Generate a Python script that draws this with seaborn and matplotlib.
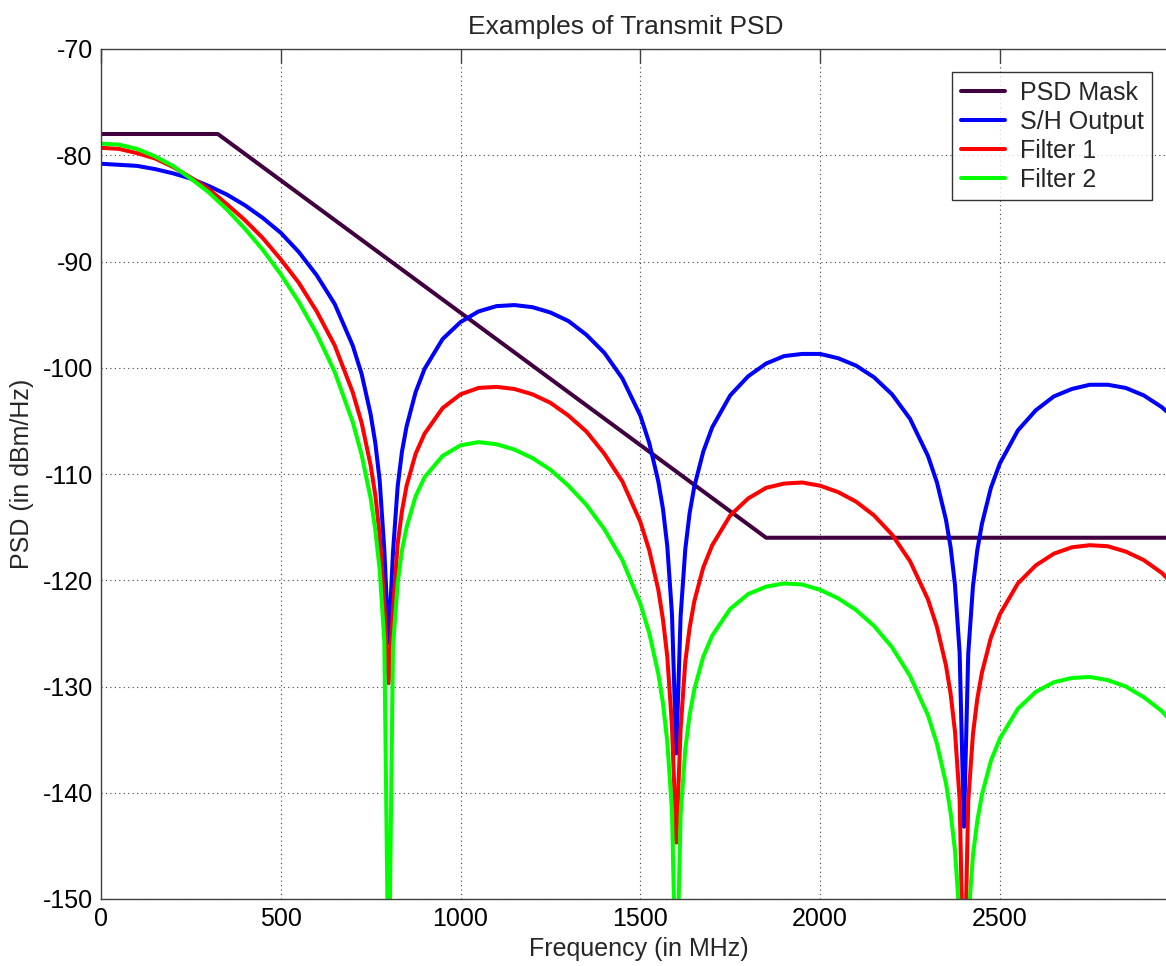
import pandas as pd
import matplotlib
matplotlib.use('Agg')
import matplotlib.pyplot as plt
import seaborn as sns

# frequency grid (MHz), denser around the nulls
freq = [0, 50, 100, 150, 200, 250, 300, 350, 400, 450, 500, 550, 600, 650, 700,
        725, 750, 763, 775, 788, 800, 812, 825, 837, 850, 875,
        900, 950, 1000, 1050, 1100, 1150, 1200, 1250, 1300, 1350, 1400, 1450, 1500,
        1525, 1550, 1563, 1575, 1588, 1600, 1612, 1625, 1637, 1650, 1675,
        1700, 1750, 1800, 1850, 1900, 1950, 2000, 2050, 2100, 2150, 2200, 2250, 2300,
        2325, 2350, 2363, 2375, 2388, 2400, 2412, 2425, 2437, 2450, 2475,
        2500, 2550, 2600, 2650, 2700, 2750, 2800, 2850, 2900, 2950, 3000]

sh_output = [-80.8, -80.9, -81.0, -81.3, -81.7, -82.2, -82.9, -83.7, -84.7, -85.9, -87.3, -89.1, -91.3, -94.0, -97.9,
             -100.6, -104.4, -107.1, -110.6, -117.2, -125.9, -117.4, -111.2, -107.9, -105.5, -102.3,
             -100.1, -97.3, -95.7, -94.7, -94.2, -94.1, -94.3, -94.8, -95.6, -96.9, -98.6, -101.0, -104.5,
             -107.1, -110.7, -113.3, -116.8, -123.2, -136.3, -123.4, -117.1, -113.7, -111.2, -107.9,
             -105.6, -102.6, -100.8, -99.6, -98.9, -98.7, -98.7, -99.1, -99.8, -100.9, -102.5, -104.8, -108.3,
             -110.8, -114.3, -116.9, -120.4, -126.8, -143.2, -126.9, -120.6, -117.2, -114.7, -111.3,
             -109.0, -105.9, -104.0, -102.7, -102.0, -101.6, -101.6, -101.9, -102.6, -103.7, -105.2]

filter1 = [-79.3, -79.4, -79.8, -80.3, -81.1, -82.1, -83.2, -84.6, -86.1, -87.8, -89.8, -92.0, -94.7, -97.9, -102.3,
           -105.2, -109.2, -112.0, -115.7, -122.3, -129.7, -122.8, -116.6, -113.5, -111.1, -108.1,
           -106.2, -103.8, -102.5, -101.9, -101.8, -102.0, -102.5, -103.3, -104.5, -106.0, -108.1, -110.7, -114.5,
           -117.2, -120.9, -123.7, -127.2, -133.7, -144.7, -134.0, -127.7, -124.5, -122.0, -118.8,
           -116.7, -113.9, -112.3, -111.3, -110.9, -110.8, -111.1, -111.7, -112.6, -113.9, -115.7, -118.2, -121.8,
           -124.4, -128.0, -130.7, -134.2, -140.6, -160.0, -140.8, -134.5, -131.2, -128.7, -125.4,
           -123.2, -120.3, -118.6, -117.5, -116.9, -116.7, -116.8, -117.3, -118.1, -119.3, -121.0]

filter2 = [-78.9, -79.0, -79.4, -80.1, -81.0, -82.2, -83.5, -85.1, -86.9, -88.9, -91.2, -93.8, -96.8, -100.4, -105.1,
           -108.2, -112.3, -115.3, -119.0, -125.7, -160.0, -126.3, -120.3, -117.2, -115.0, -112.1,
           -110.3, -108.3, -107.3, -107.0, -107.2, -107.7, -108.5, -109.6, -111.1, -112.9, -115.2, -118.1, -122.2,
           -125.0, -128.8, -131.6, -135.2, -141.7, -160.0, -142.1, -135.9, -132.7, -130.3, -127.2,
           -125.2, -122.7, -121.3, -120.6, -120.3, -120.4, -120.9, -121.7, -122.8, -124.3, -126.3, -129.0, -132.7,
           -135.4, -139.1, -141.9, -145.4, -151.9, -160.0, -152.1, -145.9, -142.7, -140.2, -137.0,
           -134.9, -132.1, -130.5, -129.6, -129.2, -129.1, -129.4, -130.0, -131.0, -132.3, -134.2]

# PSD mask corner points
mask_freq = [0, 325, 1850, 3000]
mask_psd = [-78, -78, -116, -116]

labels = ['PSD Mask', 'S/H Output', 'Filter 1', 'Filter 2']
colors = ['#400040', '#0000ff', '#ff0000', '#00ff00']

sns.set_theme(style='white')
plt.rcParams['font.family'] = ['Liberation Sans', 'DejaVu Sans']
plt.rcParams['axes.unicode_minus'] = False

fig = plt.figure(figsize=(11.66, 9.66), dpi=100)
ax = fig.add_axes([101 / 1166, 1 - 899 / 966, 1065 / 1166, 850 / 966])

lw = 2.9
sns.lineplot(x=mask_freq, y=mask_psd, color=colors[0], linewidth=lw, label=labels[0], ax=ax)
for vals, lab, col in zip([sh_output, filter1, filter2], labels[1:], colors[1:]):
    sns.lineplot(x=freq, y=vals, color=col, linewidth=lw, label=lab, ax=ax,
                 estimator=None, sort=False)

ax.set_xlim(0, 2962)
ax.set_ylim(-150, -70)
ax.set_xticks([0, 500, 1000, 1500, 2000, 2500])
ax.set_yticks(range(-150, -69, 10))

ax.grid(True, color='#404040', linestyle=(0, (1, 3)), linewidth=0.8)
ax.set_axisbelow(True)
for side in ['left', 'bottom', 'top']:
    ax.spines[side].set_color('#404040')
    ax.spines[side].set_linewidth(1.0)
ax.spines['right'].set_visible(False)
ax.tick_params(direction='in', length=10, width=1, color='#404040', top=True, right=False,
               labelsize=18, pad=6, labelcolor='black')

ax.set_title('Examples of Transmit PSD', fontsize=19, pad=11, x=0.493)
ax.set_xlabel('Frequency (in MHz)', fontsize=18)
ax.xaxis.set_label_coords(0.505, -0.045)
ax.set_ylabel('PSD (in dBm/Hz)', fontsize=18, labelpad=6)

leg = ax.legend(loc='upper right', bbox_to_anchor=(0.987, 0.973), borderaxespad=0,
                fontsize=18, frameon=True, fancybox=False, edgecolor='black',
                handlelength=1.75, handletextpad=0.6, labelspacing=0.2, borderpad=0.35)
leg.get_frame().set_linewidth(1.0)

fig.savefig('out.png', dpi=100)
